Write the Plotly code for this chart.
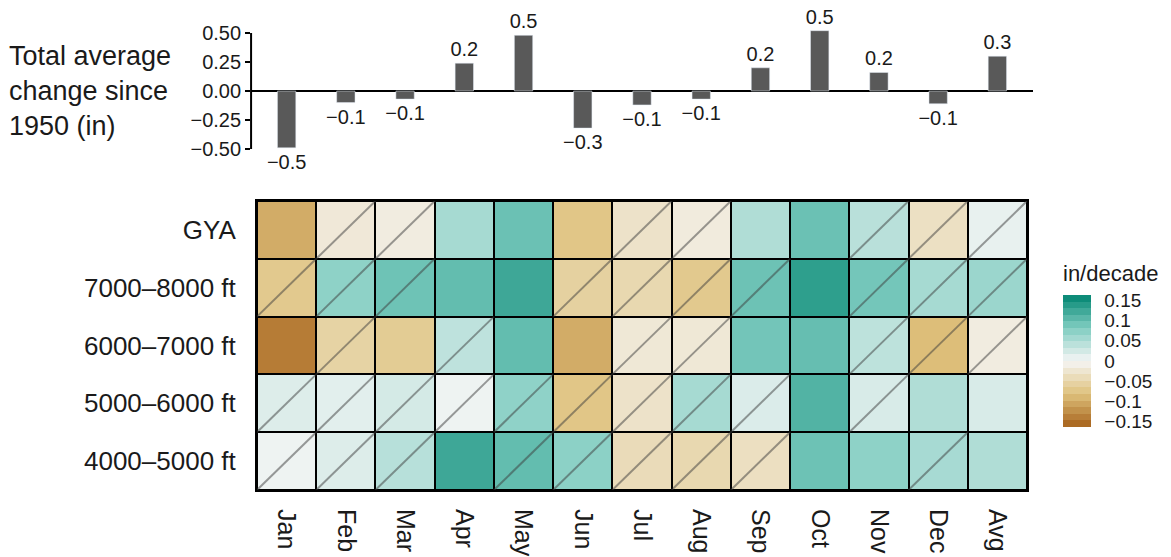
import plotly.graph_objects as go
from plotly.colors import sample_colorscale

FONT = "Liberation Sans, Arial, Helvetica, sans-serif"
INK = "#1a1a1a"

# ---- data -------------------------------------------------------------
months = ["Jan", "Feb", "Mar", "Apr", "May", "Jun", "Jul", "Aug", "Sep",
          "Oct", "Nov", "Dec", "Avg"]

# total average change since 1950 (in), one per month + annual average
total_change = [-0.49, -0.10, -0.07, 0.24, 0.48, -0.32, -0.12, -0.07,
                0.20, 0.52, 0.16, -0.11, 0.30]

# elevation bands, listed top to bottom
bands = ["GYA", "7000–8000 ft", "6000–7000 ft", "5000–6000 ft", "4000–5000 ft"]

# trend in in/decade for each band
trend_gya = [-0.100, -0.020, -0.014, 0.055, 0.095, -0.075, -0.030, -0.016,
             0.048, 0.095, 0.042, -0.034, 0.009]
trend_7000_8000 = [-0.070, 0.072, 0.093, 0.100, 0.124, -0.058, -0.047, -0.070,
                   0.094, 0.134, 0.089, 0.055, 0.063]
trend_6000_7000 = [-0.140, -0.055, -0.066, 0.038, 0.100, -0.100, -0.021, -0.021,
                   0.090, 0.098, 0.039, -0.085, -0.014]
trend_5000_6000 = [0.017, 0.013, 0.023, 0.005, 0.071, -0.075, -0.030, 0.055,
                   0.018, 0.111, 0.020, 0.048, 0.020]
trend_4000_5000 = [0.005, 0.017, 0.043, 0.124, 0.100, 0.073, -0.041, -0.047,
                   -0.035, 0.094, 0.072, 0.054, 0.048]

# 1 = trend not significant (cell struck through with a diagonal)
nonsig_gya = [0, 1, 1, 0, 0, 0, 1, 1, 0, 0, 1, 1, 1]
nonsig_7000_8000 = [1, 1, 1, 0, 0, 1, 1, 1, 1, 0, 1, 1, 1]
nonsig_6000_7000 = [0, 1, 0, 1, 0, 0, 1, 1, 0, 0, 1, 1, 1]
nonsig_5000_6000 = [1, 1, 1, 1, 1, 1, 1, 1, 1, 0, 1, 0, 0]
nonsig_4000_5000 = [1, 1, 1, 0, 1, 1, 1, 1, 1, 0, 0, 1, 0]

cbar_ticks = [0.15, 0.1, 0.05, 0, -0.05, -0.1, -0.15]
bar_ticks = [0.50, 0.25, 0.00, -0.25, -0.50]

trends = [trend_gya, trend_7000_8000, trend_6000_7000, trend_5000_6000, trend_4000_5000]
nonsig = [nonsig_gya, nonsig_7000_8000, nonsig_6000_7000, nonsig_5000_6000, nonsig_4000_5000]

# ---- scales -----------------------------------------------------------
ZLIM = 0.163
brbg = [[0.0, "#a6611a"], [0.25, "#dfc27d"], [0.5, "#f5f5f5"],
        [0.75, "#80cdc1"], [1.0, "#018571"]]

# stepped version of the palette for the legend bar (20 bins)
NBIN = 20
centers = [(k + 0.5) / NBIN for k in range(NBIN)]
binned = sample_colorscale(brbg, centers)
stepped = []
for k, c in enumerate(binned):
    stepped.append([k / NBIN, c])
    stepped.append([(k + 1) / NBIN, c])


def minus(s):
    return s.replace("-", "\u2212")


nrow = len(bands)
ypos = [nrow - 1 - i for i in range(nrow)]  # top band drawn highest
xpos = list(range(len(months)))

W, H = 1171, 557
hx0, hx1 = 257 / W, 1027 / W
hy0, hy1 = 1 - 490 / H, 1 - 201 / H
col_px = (1027 - 257) / len(months)
bx0, bx1 = (257 - 0.1 * col_px) / W, (1027 + 0.1 * col_px) / W
by0, by1 = 1 - (91 + 0.6 * 116) / H, 1 - (91 - 0.6 * 116) / H

# legend bar geometry (pixels)
CB_LEFT, CB_TOP, CB_BOTTOM, CB_W = 1063, 295, 427, 28
cb_mid = 1 - (CB_TOP + CB_BOTTOM) / 2 / H
cb_len = (CB_BOTTOM - CB_TOP) / H

fig = go.Figure()

# ---- heatmap ----------------------------------------------------------
fig.add_trace(go.Heatmap(
    z=[trends[nrow - 1 - r] for r in range(nrow)],
    x=xpos, y=list(range(nrow)),
    zmin=-ZLIM, zmax=ZLIM, colorscale=brbg, showscale=False,
    xgap=2, ygap=2, hoverinfo="skip",
    xaxis="x", yaxis="y",
))

# diagonal strike-through for non-significant cells
dx, dy = [], []
for i, row in enumerate(nonsig):
    for j, flag in enumerate(row):
        if flag:
            dx += [xpos[j] - 0.5, xpos[j] + 0.5, None]
            dy += [ypos[i] - 0.5, ypos[i] + 0.5, None]
fig.add_trace(go.Scatter(
    x=dx, y=dy, mode="lines",
    line=dict(color="rgba(60,60,60,0.5)", width=2),
    hoverinfo="skip", showlegend=False, xaxis="x", yaxis="y",
))

# legend bar
fig.add_trace(go.Scatter(
    x=[None], y=[None], mode="markers",
    marker=dict(
        color=[0], cmin=-ZLIM, cmax=ZLIM, colorscale=stepped, showscale=True,
        colorbar=dict(
            x=CB_LEFT / W, xanchor="left", xpad=0,
            y=cb_mid, yanchor="middle", ypad=0,
            len=cb_len, lenmode="fraction",
            thickness=CB_W, thicknessmode="pixels", outlinewidth=0,
            tickvals=cbar_ticks, ticktext=[minus(f"{v:g}") for v in cbar_ticks],
            ticks="outside", ticklen=10, tickcolor="rgba(0,0,0,0)",
            tickfont=dict(size=19, color=INK, family=FONT),
        ),
    ),
    hoverinfo="skip", showlegend=False, xaxis="x", yaxis="y",
))

# ---- bar chart --------------------------------------------------------
fig.add_trace(go.Bar(
    x=xpos, y=total_change, width=0.31, marker_color="#595959",
    text=[minus(f"{v:.1f}") for v in total_change], textposition="outside",
    constraintext="none",
    textfont=dict(size=20, color=INK, family=FONT), cliponaxis=False,
    hoverinfo="skip", xaxis="x2", yaxis="y2",
))

shapes = [
    # black backing that shows through the cell gaps as borders
    dict(type="rect", xref="x domain", yref="y domain", x0=0, x1=1, y0=0, y1=1,
         fillcolor="black", line=dict(width=0), layer="below"),
    # bar chart y axis line, spanning the labelled range
    dict(type="line", xref="paper", yref="y2", x0=bx0, x1=bx0,
         y0=min(bar_ticks), y1=max(bar_ticks), line=dict(color="black", width=2)),
]

# white tick marks inside the legend bar
cb_left, cb_right = CB_LEFT / W, (CB_LEFT + CB_W) / W
for v in cbar_ticks:
    yy = cb_mid + v / (2 * ZLIM) * cb_len
    shapes.append(dict(type="line", xref="paper", yref="paper",
                       x0=cb_left, x1=cb_left + 5 / W, y0=yy, y1=yy,
                       line=dict(color="rgba(255,255,255,0.8)", width=1)))
    shapes.append(dict(type="line", xref="paper", yref="paper",
                       x0=cb_right - 5 / W, x1=cb_right, y0=yy, y1=yy,
                       line=dict(color="rgba(255,255,255,0.8)", width=1)))

fig.update_layout(
    width=W, height=H,
    margin=dict(l=0, r=0, t=0, b=0),
    paper_bgcolor="white", plot_bgcolor="white",
    font=dict(family=FONT, color=INK),
    showlegend=False,
    shapes=shapes,
    xaxis=dict(
        domain=[hx0, hx1], range=[-0.5, len(months) - 0.5], anchor="y",
        tickvals=xpos, ticktext=months, tickangle=90,
        tickfont=dict(size=25, color=INK, family=FONT),
        ticks="", ticklabelstandoff=12,
        showline=True, mirror=True, linecolor="black", linewidth=2,
        showgrid=False, zeroline=False, fixedrange=True,
    ),
    yaxis=dict(
        domain=[hy0, hy1], range=[-0.5, nrow - 0.5], anchor="x",
        tickvals=ypos, ticktext=bands,
        tickfont=dict(size=26, color=INK, family=FONT),
        ticks="", ticklabelstandoff=14,
        showline=True, mirror=True, linecolor="black", linewidth=2,
        showgrid=False, zeroline=False, fixedrange=True,
    ),
    xaxis2=dict(
        domain=[bx0, bx1], range=[-0.6, len(months) - 0.4], anchor="y2",
        visible=False, fixedrange=True,
    ),
    yaxis2=dict(
        domain=[by0, by1], range=[-0.6, 0.6], anchor="x2",
        tickvals=bar_ticks, ticktext=[minus(f"{v:.2f}") for v in bar_ticks],
        tickfont=dict(size=20, color=INK, family=FONT),
        ticks="outside", ticklen=5, tickwidth=2, tickcolor="black",
        showline=False, showgrid=False,
        zeroline=True, zerolinecolor="black", zerolinewidth=2,
        fixedrange=True,
    ),
    annotations=[
        dict(text="Total average<br>change since<br>1950 (in)",
             xref="paper", yref="paper", x=7 / W, y=1 - 91 / H,
             xanchor="left", yanchor="middle", align="left", showarrow=False,
             font=dict(size=27, color=INK, family=FONT)),
        dict(text="in/decade",
             xref="paper", yref="paper", x=(CB_LEFT - 2) / W, y=1 - 273 / H,
             xanchor="left", yanchor="middle", showarrow=False,
             font=dict(size=22, color=INK, family=FONT)),
    ],
)

fig.write_html("out.html")
